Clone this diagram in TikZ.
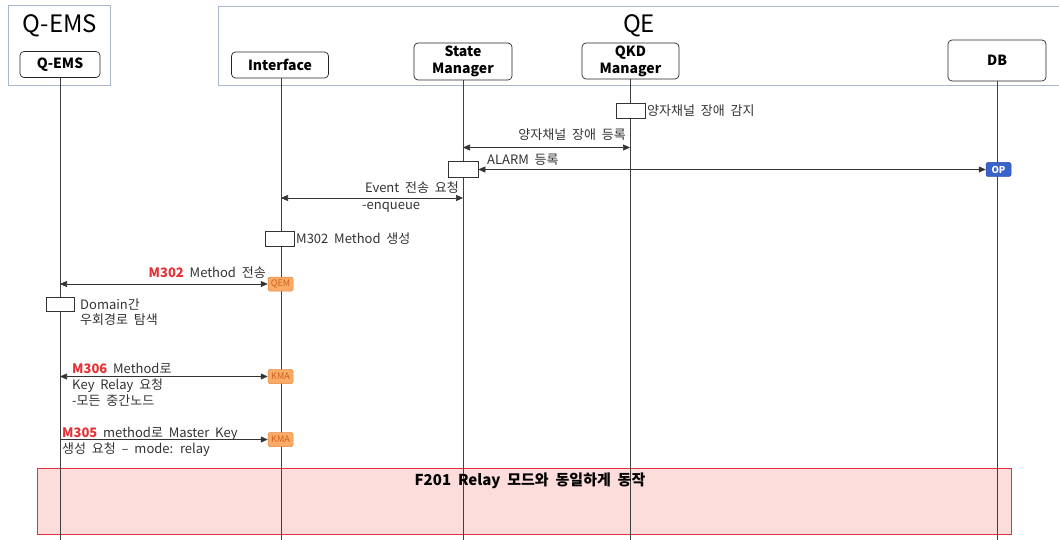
\documentclass[tikz,border=0pt]{standalone}
\usepackage{fontspec}
\setmainfont{Noto Sans CJK KR}[WordSpace=2]
\usetikzlibrary{arrows.meta}

\definecolor{framecol}{HTML}{A9B8C8}
\definecolor{txt}{HTML}{333333}
\definecolor{mred}{HTML}{E53035}
\definecolor{badgefill}{HTML}{F8AC68}
\definecolor{badgedraw}{HTML}{E8843A}
\definecolor{badgetext}{HTML}{D2601A}
\definecolor{opblue}{HTML}{3A62CC}
\definecolor{redfill}{HTML}{FDDCDC}
\definecolor{reddraw}{HTML}{E2303C}

\tikzset{
  frame/.style={draw=framecol, line width=0.8pt},
  grouplabel/.style={font=\fontsize{24}{26}\selectfont, text=black, inner sep=0pt},
  part/.style={draw=black!85, rounded corners=4pt, fill=white, line width=0.7pt,
               font=\fontsize{14}{17}\selectfont\bfseries, text=black, align=center, inner sep=1pt},
  life/.style={draw=black!75, line width=0.6pt},
  actbox/.style={draw=black!80, fill=white, line width=0.6pt, minimum width=29pt, minimum height=15pt, inner sep=0pt},
  tip/.tip={Triangle[length=7pt,width=6pt]},
  msg/.style={draw=black!80, line width=0.6pt, {tip}-{tip}},
  msgr/.style={draw=black!80, line width=0.6pt, -{tip}},
  lbl/.style={inner sep=0pt, text=txt, font=\fontsize{13}{16}\selectfont, align=left},
  badge/.style={rounded corners=1.5pt, fill=badgefill, draw=badgedraw, line width=0.5pt,
                text=badgetext, font=\fontsize{9}{10}\selectfont, minimum width=25pt, minimum height=14pt, inner sep=0pt},
  opbadge/.style={rounded corners=2pt, fill=opblue, draw=opblue!80!black, line width=0.5pt,
                text=white, font=\fontsize{9.5}{10}\selectfont\bfseries, minimum width=25pt, minimum height=14pt, inner sep=0pt},
  redbox/.style={fill=redfill, draw=reddraw, line width=0.9pt},
}

\begin{document}
\begin{tikzpicture}[x=1pt, y=-1pt]
\useasboundingbox[fill=white] (0,0) rectangle (1059,540);

% group frames
\draw[frame] (8,5) rectangle (110,85);
\draw[frame] (1059,6) -- (218,6) -- (218,85) -- (1059,85);
\node[grouplabel] (gqems) at (60,26) {Q-EMS};
\node[grouplabel] (gqe) at (639,26) {QE};

% bottom band
\draw[redbox] (37,468) rectangle (1011,534);

% participants
\node[part, minimum width=80pt, minimum height=26pt] (qems) at (60,64.5) {Q-EMS};
\node[part, minimum width=97pt, minimum height=26pt] (intf) at (280,65) {Interface};
\node[part, minimum width=98pt, minimum height=37pt] (sm) at (463,61.5) {State\\Manager};
\node[part, minimum width=97pt, minimum height=36pt] (qkd) at (630.5,61) {QKD\\Manager};
\node[part, minimum width=98pt, minimum height=41pt] (db) at (997,60.5) {DB};

% lifeline ends
\coordinate (qemsEnd) at (60,540);
\coordinate (intfEnd) at (281,540);
\coordinate (smEnd) at (463,540);
\coordinate (qkdEnd) at (630,540);
\coordinate (dbEnd) at (997,540);

\draw[life] (qems.south) -- (qemsEnd);
\draw[life] (281,78) -- (intfEnd);
\draw[life] (sm.south) -- (smEnd);
\draw[life] (630,79) -- (qkdEnd);
\draw[life] (db.south) -- (dbEnd);

% activation boxes
\node[actbox] (qkdAct) at (630.5,111) {};
\node[actbox, minimum width=30pt, minimum height=16pt] (smAct) at (463,169.5) {};
\node[actbox] (intfAct) at (279.5,238.5) {};
\node[actbox, minimum width=28pt, minimum height=14pt] (qemsAct) at (60,304) {};

% badges
\node[opbadge] (op) at (998.5,169.5) {OP};
\node[badge] (qem) at (280.5,284) {QEM};
\node[badge] (kma1) at (280.5,376.5) {KMA};
\node[badge] (kma2) at (280.5,439.5) {KMA};

% message anchor points
\coordinate (smA) at (463,147.5);
\coordinate (qkdA) at (630,147.5);
\coordinate (intfB) at (281,198);
\coordinate (smB) at (463,198);
\coordinate (qemsC) at (60,284);
\coordinate (qemsD) at (60,376.5);
\coordinate (qemsE) at (60,439.5);

% messages
\draw[msg] (smA) -- (qkdA);
\draw[msg] (smAct.east) -- (op.west);
\draw[msg] (intfB) -- (smB);
\draw[msg] (qemsC) -- (qem.west);
\draw[msg] (qemsD) -- (kma1.west);
\draw[msgr] (qemsE) -- (kma2.west);

% labels
\node[lbl, anchor=west] (l1) at (647,111) {양자채널 장애 감지};
\node[lbl, anchor=east] (l2) at (626,135) {양자채널 장애 등록};
\node[lbl, anchor=west] (l3) at (487,160) {ALARM 등록};
\node[lbl, anchor=east] (l4) at (459,188) {Event 전송 요청};
\node[lbl, anchor=west] (l5) at (362,207) {-enqueue};
\node[lbl, anchor=west] (l6) at (296,239) {M302 Method 생성};
\node[lbl, anchor=east] (l7) at (266,273) {\textcolor{mred}{\bfseries M302} Method 전송};
\node[lbl, anchor=north west, font=\fontsize{13}{15}\selectfont] (l8) at (80,299) {Domain간\\우회경로 탐색};
\node[lbl, anchor=north west] (l9) at (72,362.5) {\textcolor{mred}{\bfseries M306} Method로\\Key Relay 요청\\-모든 중간노드};
\node[lbl, anchor=north west] (l10) at (62,426.5) {\textcolor{mred}{\bfseries M305} method로 Master Key\\생성 요청 – mode: relay};

\node[inner sep=0pt, font=\fontsize{15}{17}\selectfont\bfseries, text=black] (f201) at (530,481) {F201 Relay 모드와 동일하게 동작};
\end{tikzpicture}
\end{document}
